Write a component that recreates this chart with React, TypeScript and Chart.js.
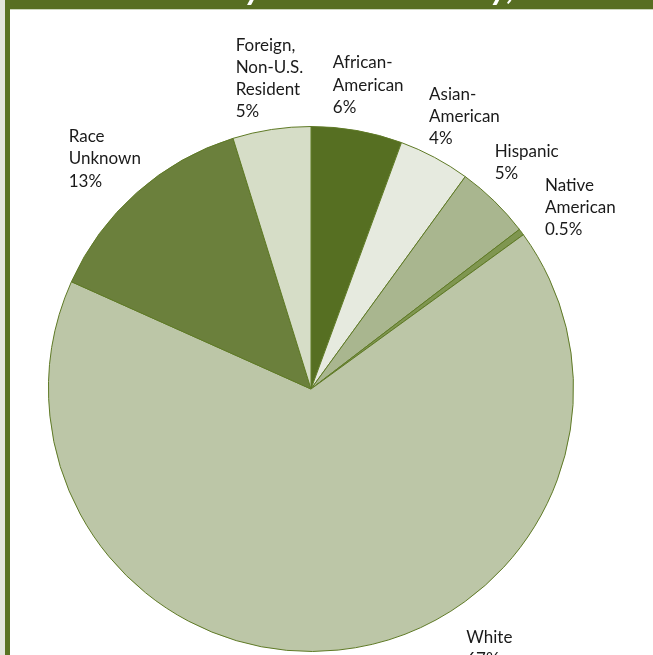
import React, { useEffect, useRef } from "react";
import { Chart, registerables } from "chart.js";

Chart.register(...registerables);

const categories = [
  "African-American",
  "Asian-American",
  "Hispanic",
  "Native American",
  "White",
  "Race Unknown",
  "Foreign, Non-U.S. Resident",
];
const shares = [5.6, 4.4, 4.6, 0.4, 66.7, 13.5, 4.8];
const shareLabels = ["6%", "4%", "5%", "0.5%", "67%", "13%", "5%"];
const labelLines = [
  ["African-", "American"],
  ["Asian-", "American"],
  ["Hispanic"],
  ["Native", "American"],
  ["White"],
  ["Race", "Unknown"],
  ["Foreign,", "Non-U.S.", "Resident"],
];
const sliceColors = [
  "#566f22",
  "#e6eadf",
  "#a9b68f",
  "#7f9650",
  "#bcc6a7",
  "#6b803c",
  "#d6ddc7",
];
const labelOffsets = [
  [-31, -23.5],
  [-24, -23],
  [-27, -16],
  [-8, -18],
  [124, -46.5],
  [-42, -21],
  [-30, -40],
];
const titleText = "Enrollment by Race & Ethnicity,";

export default function App() {
  const ref = useRef<HTMLCanvasElement>(null);

  useEffect(() => {
    const framePlugin = {
      id: "frame",
      beforeDraw(chart: any) {
        const ctx = chart.ctx;
        const w = chart.width;
        const h = chart.height;
        ctx.save();
        ctx.fillStyle = "#ffffff";
        ctx.fillRect(0, 0, w, h);
        ctx.fillStyle = "#e3e6dc";
        ctx.fillRect(0, 0, 5, h);
        ctx.fillStyle = "#5a7323";
        ctx.fillRect(5, 0, 5, h);
        ctx.fillStyle = "#586e22";
        ctx.fillRect(10, 0, w - 10, 9);
        ctx.fillStyle = "#cdd6bd";
        ctx.fillRect(10, 9, w - 10, 1);
        ctx.beginPath();
        ctx.rect(10, 0, w - 10, 9);
        ctx.clip();
        ctx.font = "italic bold 28px Lato";
        const pre0 = ctx.measureText("Enrollment b").width;
        const gap0 = ctx.measureText("Enrollment by Race & Ethnicit").width - pre0;
        const size = (28 * 245) / gap0;
        ctx.font = `italic bold ${size.toFixed(1)}px Lato`;
        ctx.fillStyle = "#ffffff";
        ctx.textBaseline = "alphabetic";
        const pre = ctx.measureText("Enrollment b").width;
        ctx.fillText(titleText, 246 - pre, -1);
        ctx.restore();
      },
    };

    const labelPlugin = {
      id: "outLabels",
      afterDraw(chart: any) {
        const ctx = chart.ctx;
        const meta = chart.getDatasetMeta(0);
        ctx.save();
        ctx.font = "17px Lato";
        ctx.fillStyle = "#1a1a1a";
        ctx.textAlign = "left";
        ctx.textBaseline = "alphabetic";
        meta.data.forEach((arc: any, i: number) => {
          const p = arc.getProps(["x", "y", "startAngle", "endAngle", "outerRadius"], true);
          const mid = (p.startAngle + p.endAngle) / 2;
          const r = p.outerRadius * 1.15;
          const ax = p.x + Math.cos(mid) * r + labelOffsets[i][0];
          const ay = p.y + Math.sin(mid) * r + labelOffsets[i][1];
          const lines = [...labelLines[i], shareLabels[i]];
          lines.forEach((t, k) => ctx.fillText(t, ax, ay + k * 22.3));
        });
        ctx.restore();
      },
    };

    const chart = new Chart(ref.current!, {
      type: "pie",
      data: {
        labels: categories,
        datasets: [
          {
            data: shares,
            backgroundColor: sliceColors,
            borderColor: "#5f7a26",
            borderWidth: 1,
          },
        ],
      },
      options: {
        responsive: true,
        maintainAspectRatio: false,
        animation: false,
        layout: { padding: { left: 48, right: 79, top: 126, bottom: 3 } },
        plugins: {
          legend: { display: false },
          tooltip: { enabled: false },
        },
      },
      plugins: [framePlugin, labelPlugin],
    });
    return () => chart.destroy();
  }, []);

  return (
    <div style={{ position: "fixed", left: 0, top: 0, width: 653, height: 655 }}>
      <canvas ref={ref} />
    </div>
  );
}
